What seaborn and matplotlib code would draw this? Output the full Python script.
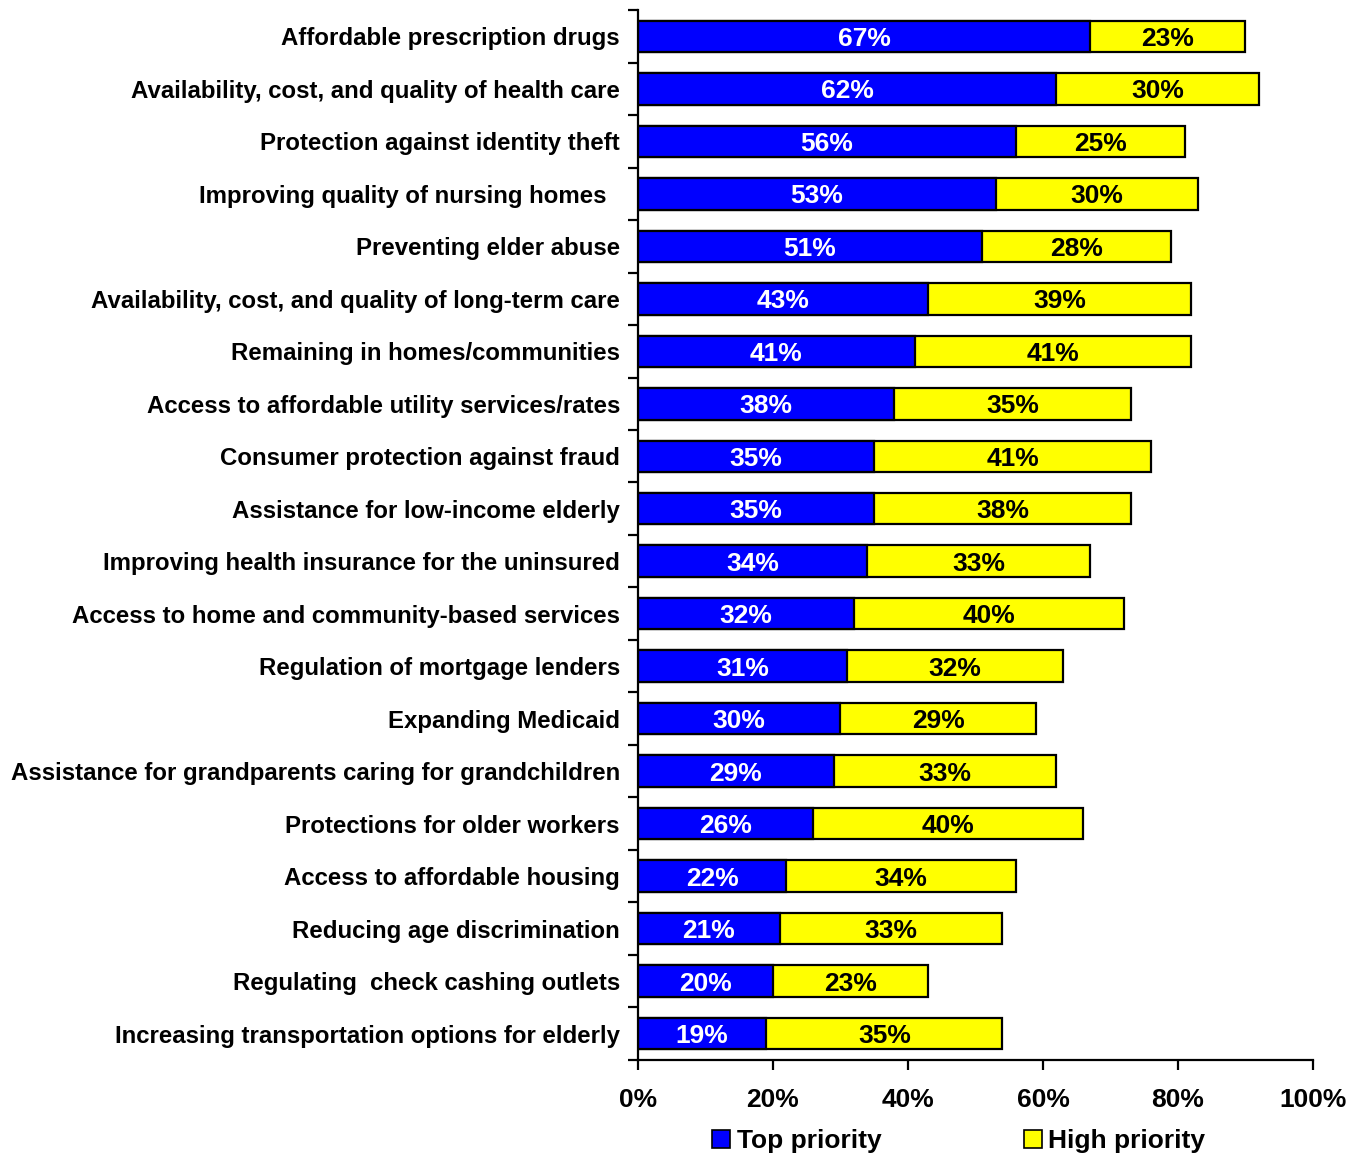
import matplotlib
matplotlib.use("Agg")
import matplotlib.pyplot as plt
from matplotlib.patches import Patch
from matplotlib.ticker import FixedLocator, PercentFormatter
import seaborn as sns
import pandas as pd
import numpy as np

categories = [
    "Affordable prescription drugs",
    "Availability, cost, and quality of health care",
    "Protection against identity theft",
    "Improving quality of nursing homes  ",
    "Preventing elder abuse",
    "Availability, cost, and quality of long-term care",
    "Remaining in homes/communities",
    "Access to affordable utility services/rates",
    "Consumer protection against fraud",
    "Assistance for low-income elderly",
    "Improving health insurance for the uninsured",
    "Access to home and community-based services",
    "Regulation of mortgage lenders",
    "Expanding Medicaid",
    "Assistance for grandparents caring for grandchildren",
    "Protections for older workers",
    "Access to affordable housing",
    "Reducing age discrimination",
    "Regulating  check cashing outlets",
    "Increasing transportation options for elderly",
]
top_priority = [67, 62, 56, 53, 51, 43, 41, 38, 35, 35, 34, 32, 31, 30, 29, 26, 22, 21, 20, 19]
high_priority = [23, 30, 25, 30, 28, 39, 41, 35, 41, 38, 33, 40, 32, 29, 33, 40, 34, 33, 23, 35]

BLUE = "#0000FF"
YELLOW = "#FFFF00"

sns.set_theme(style="white")
plt.rcParams["font.family"] = ["Liberation Sans", "DejaVu Sans"]
plt.rcParams["font.weight"] = "bold"
for key in ["text.color", "axes.labelcolor", "xtick.color", "ytick.color"]:
    plt.rcParams[key] = "black"

df = pd.DataFrame({
    "category": categories,
    "top": top_priority,
    "high": high_priority,
})
df["total"] = df["top"] + df["high"]

fig = plt.figure(figsize=(13.62, 11.54), dpi=100)
ax = fig.add_axes([0.4684, 0.0815, 0.4956, 0.9098])

# Stacked bars: full total in yellow, then top priority in blue on top
sns.barplot(data=df, x="total", y="category", color=YELLOW, edgecolor="black",
            linewidth=1.6, width=0.6, saturation=1, ax=ax, orient="h")
sns.barplot(data=df, x="top", y="category", color=BLUE, edgecolor="black",
            linewidth=1.6, width=0.6, saturation=1, ax=ax, orient="h")

n = len(categories)
for i, (t, h) in enumerate(zip(top_priority, high_priority)):
    ax.text(t / 2, i, f"{t}%", ha="center", va="center_baseline", color="white",
            fontsize=19, fontweight="bold")
    ax.text(t + h / 2, i, f"{h}%", ha="center", va="center_baseline", color="black",
            fontsize=19, fontweight="bold")

ax.set_xlim(0, 100)
ax.set_ylim(n - 0.5, -0.5)
ax.set_xlabel("")
ax.set_ylabel("")

ax.xaxis.set_major_locator(FixedLocator([0, 20, 40, 60, 80, 100]))
ax.xaxis.set_major_formatter(PercentFormatter(decimals=0))
ax.tick_params(axis="x", which="major", length=7, width=1.6, color="black",
               direction="out", labelsize=19, pad=13, bottom=True)

# Category labels at centers, tick marks at category boundaries
ax.yaxis.set_minor_locator(FixedLocator(np.arange(-0.5, n, 1.0)))
ax.tick_params(axis="y", which="major", length=0, labelsize=17.3, pad=13)
ax.tick_params(axis="y", which="minor", length=7, width=1.6, color="black",
               direction="out", left=True)
for lbl in ax.get_yticklabels() + ax.get_xticklabels():
    lbl.set_fontweight("bold")
    lbl.set_color("black")

for side in ["top", "right"]:
    ax.spines[side].set_visible(False)
for side in ["left", "bottom"]:
    ax.spines[side].set_color("black")
    ax.spines[side].set_linewidth(1.6)

handles = [
    Patch(facecolor=BLUE, edgecolor="black", linewidth=1.2, label="Top priority"),
    Patch(facecolor=YELLOW, edgecolor="black", linewidth=1.2, label="High priority"),
]
fig.legend(handles=handles, loc="center", bbox_to_anchor=(0.704, 0.011), ncol=2,
           frameon=False, prop={"size": 19, "weight": "bold"},
           handlelength=0.67, handleheight=0.67, handletextpad=0.26,
           columnspacing=5.4, borderaxespad=0)

fig.savefig("out.png", dpi=100)
